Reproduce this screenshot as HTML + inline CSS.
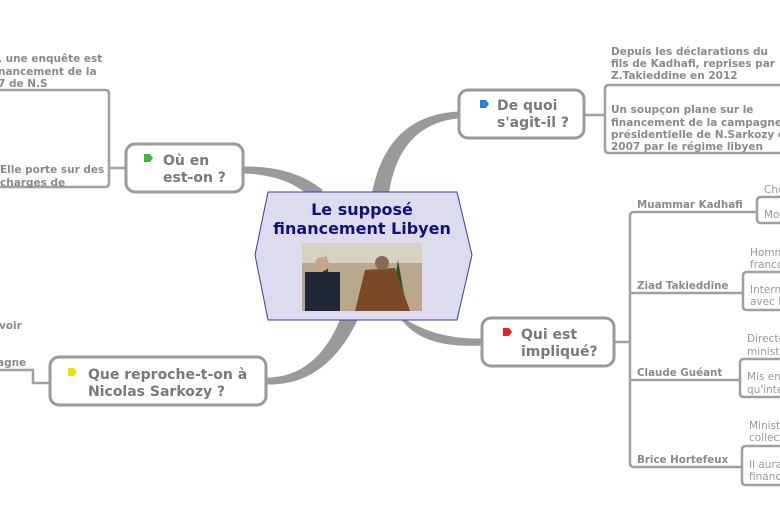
<!DOCTYPE html>
<html><head><meta charset="utf-8"><style>
body{margin:0;background:#fff;width:780px;height:516px;overflow:hidden}
svg{display:block}
.n{font:bold 14px "DejaVu Sans","Liberation Sans",sans-serif;fill:#7a7a7a}
.t{font:bold 10.5px "DejaVu Sans","Liberation Sans",sans-serif;fill:#8a8a8a}
.s{font:10.5px "DejaVu Sans","Liberation Sans",sans-serif;fill:#999}
.l{font:bold 10.3px "DejaVu Sans","Liberation Sans",sans-serif;fill:#8a8a8a}
</style></head><body>
<svg width="780" height="516" viewBox="0 0 780 516">
<g fill="#9a9a9a" stroke="#9a9a9a" stroke-width="1">
<path d="M372,196 Q386,116 458,112 L458,118 Q398,124 388,196 Z"/>
<path d="M394,312 Q430,340 481,339 L481,345 Q426,348 404,322 Z"/>
<path d="M322,190 Q292,166 243,167 L243,173 Q288,174 312,198 Z"/>
<path d="M342,316 Q318,378 266,378 L266,384 Q326,386 358,318 Z"/>
</g>
<g fill="none" stroke="#a0a0a0" stroke-width="2.5">
<path d="M584,115 H605"/>
<path d="M780,85 H609 Q605,85 605,89 V149 Q605,153 609,153 H780"/>
<path d="M614,342 H630"/>
<path d="M742,212 H634 Q630,212 630,216 V463 Q630,467 634,467 H742 M630,293 H742 M630,380 H740"/>
<path d="M742,212 H757 M742,293 H743 M740,380 H740"/>
<path d="M780,197 H761 Q757,197 757,201 V219 Q757,223 761,223 H780"/>
<path d="M780,272 H747 Q743,272 743,276 V306 Q743,310 747,310 H780"/>
<path d="M780,359 H744 Q740,359 740,363 V393 Q740,397 744,397 H780"/>
<path d="M780,446 H746 Q742,446 742,450 V481 Q742,485 746,485 H780"/>
<path d="M125,168 H108"/>
<path d="M0,90 H105 Q109,90 109,94 V183 Q109,187 105,187 H0"/>
<path d="M49,383 H33 V370 H0"/>
</g>
<polygon points="255,255 268,192 457,192 472,255 457,320 268,320" fill="#dcdcee" stroke="#3a3aa0" stroke-width="1"/>
<text x="362" y="215" text-anchor="middle" style="font:bold 16px 'DejaVu Sans','Liberation Sans',sans-serif;fill:#101080">Le supposé</text>
<text x="362" y="234" text-anchor="middle" style="font:bold 16px 'DejaVu Sans','Liberation Sans',sans-serif;fill:#101080">financement Libyen</text>
<rect x="302" y="243" width="120" height="68" fill="#b8a88e"/>
<rect x="302" y="243" width="120" height="20" fill="#d8d2c4"/>
<path d="M326,255 L318,300 L332,300 Z" fill="#2e4a2a"/>
<path d="M398,260 L392,300 L405,300 Z" fill="#2e4a2a"/>
<rect x="305" y="272" width="35" height="39" fill="#1f2636"/>
<circle cx="322" cy="264" r="7" fill="#c9a488"/>
<path d="M355,311 L365,270 L395,268 L410,311 Z" fill="#7a4a26"/>
<circle cx="382" cy="263" r="7" fill="#8a6a55"/>
<g fill="#fff" stroke="#9a9a9a" stroke-width="3">
<rect x="459" y="90" width="125" height="48" rx="9"/>
<rect x="482" y="318" width="132" height="48" rx="9"/>
<rect x="126" y="144" width="117" height="48" rx="9"/>
<rect x="50" y="357" width="216" height="48" rx="9"/>
</g>
<path d="M480,100 h6 l3,4 l-3,4 h-6z" fill="#2a7be8"/>
<path d="M503,328 h6 l3,4 l-3,4 h-6z" fill="#e82020"/>
<path d="M144,154 h6 l3,4 l-3,4 h-6z" fill="#3cb83c"/>
<path d="M68,368 h6 l3,4 l-3,4 h-6z" fill="#f0e000"/>
<text class="n" x="497" y="110">De quoi</text><text class="n" x="497" y="127">s'agit-il ?</text>
<text class="n" x="521" y="339">Qui est</text><text class="n" x="521" y="356">impliqué?</text>
<text class="n" x="163" y="165">Où en</text><text class="n" x="163" y="182">est-on ?</text>
<text class="n" x="88" y="379">Que reproche-t-on à</text><text class="n" x="88" y="396">Nicolas Sarkozy ?</text>
<text class="t" x="611" y="55">Depuis les déclarations du</text>
<text class="t" x="611" y="67">fils de Kadhafi, reprises par</text>
<text class="t" x="611" y="79">Z.Takieddine en 2012</text>
<text class="t" x="611" y="113">Un soupçon plane sur le</text>
<text class="t" x="611" y="126">financement de la campagne</text>
<text class="t" x="611" y="138">présidentielle de N.Sarkozy en</text>
<text class="t" x="611" y="150">2007 par le régime libyen</text>
<text class="l" x="637" y="208">Muammar Kadhafi</text>
<text class="l" x="637" y="289">Ziad Takieddine</text>
<text class="l" x="637" y="376">Claude Guéant</text>
<text class="l" x="637" y="463">Brice Hortefeux</text>
<text class="s" x="764" y="193">Chef</text><text class="s" x="764" y="218">Mort</text>
<text class="s" x="750" y="256">Homme</text><text class="s" x="750" y="268">franco</text>
<text class="s" x="750" y="293">Interm</text><text class="s" x="750" y="305">avec l</text>
<text class="s" x="747" y="342">Directe</text><text class="s" x="747" y="355">ministr</text>
<text class="s" x="747" y="380">Mis en</text><text class="s" x="747" y="393">qu'inte</text>
<text class="s" x="749" y="429">Minist</text><text class="s" x="749" y="441">collect</text>
<text class="s" x="749" y="468">Il aura</text><text class="s" x="749" y="480">financ</text>
<text class="t" x="-2" y="62">, une enquête est</text>
<text class="t" x="-2" y="75">nancement de la</text>
<text class="t" x="-2" y="87">7 de N.S</text>
<text class="t" x="0" y="173">Elle porte sur des</text>
<text class="t" x="0" y="186">charges de</text>
<text class="t" x="-1" y="329">voir</text>
<text class="t" x="-3" y="366">agne</text>
</svg>
</body></html>
